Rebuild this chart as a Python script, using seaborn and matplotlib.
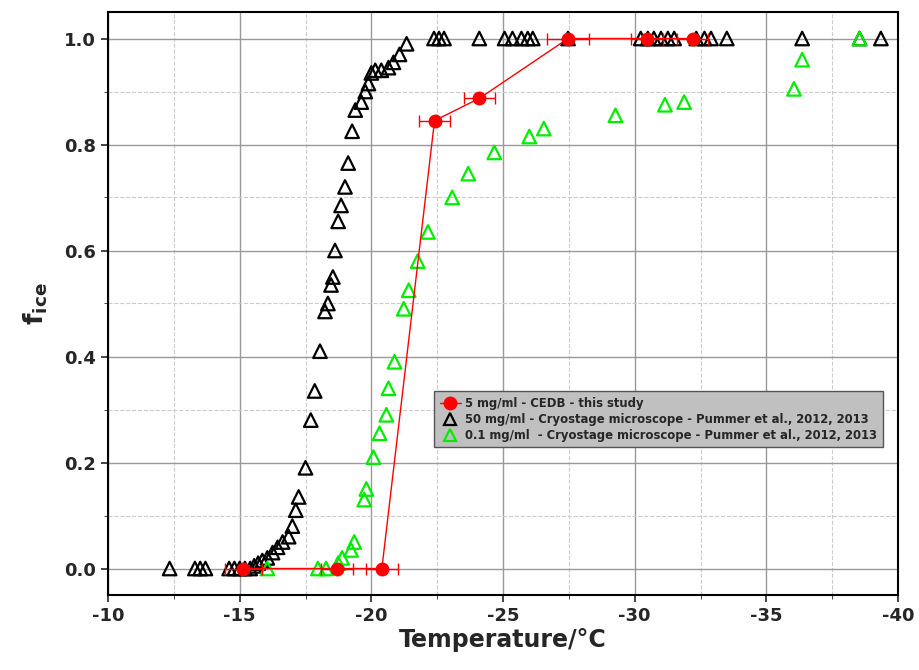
import matplotlib
matplotlib.use("Agg")
import matplotlib.pyplot as plt
import seaborn as sns
from matplotlib.ticker import MultipleLocator
from matplotlib.lines import Line2D

black_T = [-12.34,-13.3,-13.5,-13.7,-14.6,-14.8,-15.0,-15.2,-15.4,-15.55,-15.7,-15.86,-16.05,-16.25,-16.44,-16.63,-16.86,-17.0,-17.13,-17.24,-17.5,-17.7,-17.85,-18.05,-18.24,-18.35,-18.47,-18.54,-18.62,-18.74,-18.85,-19.0,-19.12,-19.27,-19.39,-19.62,-19.77,-19.89,-20.0,-20.15,-20.38,-20.65,-20.84,-21.07,-21.34,-22.38,-22.57,-22.76,-24.1,-25.06,-25.36,-25.7,-25.94,-26.13,-27.47,-30.23,-30.5,-30.73,-31.0,-31.26,-31.5,-32.34,-32.65,-32.9,-33.5,-36.36,-38.54,-39.35]
black_f = [0,0,0,0,0,0,0,0,0,0.005,0.01,0.015,0.02,0.03,0.04,0.05,0.06,0.08,0.11,0.135,0.19,0.28,0.335,0.41,0.485,0.50,0.535,0.55,0.60,0.655,0.685,0.72,0.765,0.825,0.865,0.88,0.90,0.915,0.935,0.94,0.94,0.945,0.955,0.97,0.99,1,1,1,1,1,1,1,1,1,1,1,1,1,1,1,1,1,1,1,1,1,1,1]
green_T = [-16.05,-17.97,-18.28,-18.74,-18.89,-19.23,-19.35,-19.73,-19.81,-20.08,-20.31,-20.57,-20.65,-20.88,-21.23,-21.42,-21.76,-22.15,-23.07,-23.68,-24.67,-26.0,-26.55,-29.27,-31.15,-31.88,-36.05,-36.36,-38.54]
green_f = [0,0,0,0.01,0.02,0.035,0.05,0.13,0.15,0.21,0.255,0.29,0.34,0.39,0.49,0.525,0.58,0.635,0.70,0.745,0.785,0.815,0.83,0.855,0.875,0.88,0.905,0.96,1.0]
red_T = [-15.13,-18.7,-20.4,-22.4,-24.1,-27.47,-30.46,-32.2]
red_f = [0,0,0,0.845,0.887,1,1,1]
red_err = [0.7,0.6,0.6,0.6,0.6,0.8,0.6,0.6]
labels = ['5 mg/ml - CEDB - this study',
          '50 mg/ml - Cryostage microscope - Pummer et al., 2012, 2013',
          '0.1 mg/ml  - Cryostage microscope - Pummer et al., 2012, 2013']

sns.set_style("white")
plt.rcParams['font.family'] = ['DejaVu Sans']
fig = plt.figure(figsize=(9.19, 6.7), dpi=100)
ax = fig.add_axes([108/919, 75/670, 790/919, 583/670])

tri = dict(marker='^', s=95, facecolor='none', linewidth=1.6)
sns.scatterplot(x=black_T, y=black_f, ax=ax, edgecolor='black', zorder=3, **tri)
sns.scatterplot(x=green_T, y=green_f, ax=ax, edgecolor='#00ee00', zorder=3, **tri)
sns.lineplot(x=red_T, y=red_f, ax=ax, color='red', lw=1, sort=False, zorder=4)
ax.errorbar(red_T, red_f, xerr=red_err, fmt='o', color='red', ms=9, lw=1, capsize=4, zorder=5)

hs = [Line2D([], [], color='red', marker='o', ms=9, lw=1),
      Line2D([], [], color='none', marker='^', ms=9, mec='black', mew=1.6, mfc='none'),
      Line2D([], [], color='none', marker='^', ms=9, mec='#00ee00', mew=1.6, mfc='none')]
ax.legend(hs, labels, loc='upper left', bbox_to_anchor=(0.405, 0.36), frameon=True,
          fancybox=False, facecolor='#c0c0c0', edgecolor='#555555', framealpha=1,
          prop={'weight': 'bold', 'size': 8.4}, handletextpad=0.4, borderpad=0.5,
          labelspacing=0.25, handlelength=1.8)

ax.set_xlim(-10, -40)
ax.set_ylim(-0.05, 1.05)
ax.xaxis.set_minor_locator(MultipleLocator(2.5))
ax.yaxis.set_minor_locator(MultipleLocator(0.1))
ax.set_yticks([0, 0.2, 0.4, 0.6, 0.8, 1.0])
ax.set_yticklabels(['0.0', '0.2', '0.4', '0.6', '0.8', '1.0'], fontweight='bold')
ax.set_xticks([-10, -15, -20, -25, -30, -35, -40])
ax.set_xticklabels(['-10', '-15', '-20', '-25', '-30', '-35', '-40'], fontweight='bold')
ax.grid(which='major', color='#999999', lw=1)
ax.grid(which='minor', color='#cccccc', lw=0.8, ls='--')
ax.set_axisbelow(True)
for s in ax.spines.values():
    s.set_color('black'); s.set_linewidth(1.5)
ax.tick_params(axis='both', which='major', labelsize=13, direction='out', length=5, width=1.2, bottom=True, left=True)
ax.tick_params(axis='both', which='minor', direction='out', length=3, bottom=True, left=True)
ax.set_xlabel('Temperature/°C', fontsize=17, fontweight='bold', labelpad=2)
ax.set_ylabel(r'$\mathbf{f_{ice}}$', fontsize=19, labelpad=10)
fig.savefig('out.png', dpi=100)
